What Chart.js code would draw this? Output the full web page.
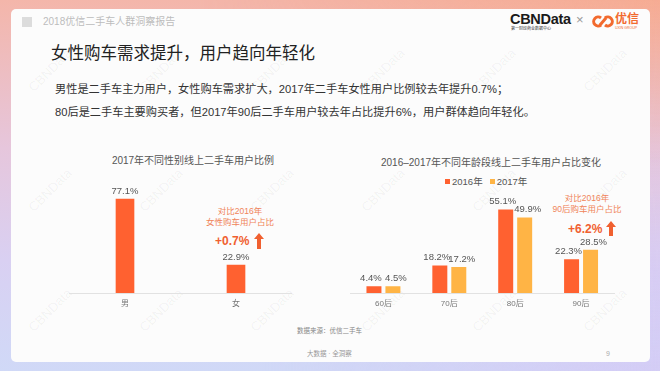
<!DOCTYPE html>
<html>
<head>
<meta charset="utf-8">
<script src="https://cdn.jsdelivr.net/npm/chart.js@4.4.0/dist/chart.umd.min.js"></script>
<style>
  html, body { margin: 0; padding: 0; }
  body {
    width: 660px; height: 371px; position: relative; overflow: hidden;
    font-family: "Liberation Sans", "Noto Sans CJK SC", sans-serif;
    background: linear-gradient(to bottom, #f4b6aa 0%, #e6c6dc 40%, #d9d0f2 70%, #d0d9f7 100%);
  }
  .tint { position: absolute; inset: 0; background: linear-gradient(to bottom, rgba(249,160,120,0.45) 0%, rgba(255,255,255,0) 45%); -webkit-mask-image: linear-gradient(to right, transparent 30%, black 100%); mask-image: linear-gradient(to right, transparent 30%, black 100%); }
  .tint2 { position: absolute; inset: 0; background: linear-gradient(to top, rgba(215,195,245,0.55) 0%, rgba(255,255,255,0) 60%); -webkit-mask-image: linear-gradient(to right, transparent 40%, black 100%); mask-image: linear-gradient(to right, transparent 40%, black 100%); }
  .card { position: absolute; left: 11px; top: 9px; width: 639px; height: 353px; background: #fcfcfc; border-radius: 5px; }
  .abs { position: absolute; white-space: nowrap; }
  .wm { position: absolute; font-size: 13px; color: rgba(0,0,0,0.05); transform: translate(-50%,-50%) rotate(-45deg); white-space: nowrap; }
  canvas { position: absolute; }
</style>
</head>
<body>
<div class="tint"></div>
<div class="tint2"></div>
<div class="card"></div>
<div id="wms"></div>

<div class="abs" style="left:22px;top:17px;width:10px;height:10px;background:#dcdcdc;"></div>
<div class="abs" style="left:43px;top:15px;font-size:10px;line-height:14px;color:#bcbcbc;">2018优信二手车人群洞察报告</div>

<div class="abs" style="left:510px;top:10px;font-size:14.5px;font-weight:bold;color:#1a1a1a;letter-spacing:-0.3px;line-height:18px;">CBNData</div>
<div class="abs" style="left:511px;top:26px;font-size:4px;color:#333;line-height:5px;">第一财经商业数据中心</div>
<div class="abs" style="left:576px;top:12px;font-size:13px;color:#999;line-height:16px;">×</div>
<svg class="abs" style="left:592px;top:15px;" width="22" height="13" viewBox="0 0 22 13">
  <path d="M9 3 A4.5 4.5 0 1 0 9 10" fill="none" stroke="#f26a2e" stroke-width="3"/>
  <path d="M13 3 A4.5 4.5 0 1 1 13 10" fill="none" stroke="#f26a2e" stroke-width="3"/>
  <path d="M8 10 L14 3" stroke="#f26a2e" stroke-width="3"/>
</svg>
<div class="abs" style="left:615px;top:12px;font-size:12px;font-weight:bold;color:#f26a2e;line-height:14px;">优信</div>
<div class="abs" style="left:615px;top:26px;font-size:3.5px;color:#f26a2e;line-height:4px;">UXIN GROUP</div>

<div class="abs" style="left:51px;top:43px;font-size:16.5px;line-height:20px;color:#222;">女性购车需求提升，用户趋向年轻化</div>
<div class="abs" style="left:55px;top:82px;font-size:11.2px;line-height:14px;color:#333;">男性是二手车主力用户，女性购车需求扩大，2017年二手车女性用户比例较去年提升0.7%；</div>
<div class="abs" style="left:55px;top:105px;font-size:11.2px;line-height:14px;color:#333;">80后是二手车主要购买者，但2017年90后二手车用户较去年占比提升6%，用户群体趋向年轻化。</div>

<div class="abs" style="left:193px;top:155px;transform:translateX(-50%);font-size:10px;line-height:12px;color:#555;">2017年不同性别线上二手车用户比例</div>
<div class="abs" style="left:491px;top:157px;transform:translateX(-50%);font-size:10px;line-height:12px;color:#555;">2016–2017年不同年龄段线上二手车用户占比变化</div>
<div id="legend" class="abs" style="left:445px;top:176px;font-size:9.5px;line-height:12px;color:#555;"></div>

<div class="abs" style="left:240px;top:206px;transform:translateX(-50%);font-size:8.5px;line-height:11px;color:#f0845a;text-align:center;">对比2016年<br>女性购车用户占比</div>
<div class="abs" style="left:215px;top:234px;font-size:12px;font-weight:bold;line-height:15px;color:#f06030;">+0.7%</div>
<svg class="abs" style="left:254px;top:233px;" width="10" height="16" viewBox="0 0 10 16"><polygon points="5,0 10,6 7,6 7,16 3,16 3,6 0,6" fill="#f06030"/></svg>

<div class="abs" style="left:587px;top:193px;transform:translateX(-50%);font-size:8.5px;line-height:11px;color:#f0845a;text-align:center;">对比2016年<br>90后购车用户占比</div>
<div class="abs" style="left:568px;top:222px;font-size:12px;font-weight:bold;line-height:15px;color:#f06030;">+6.2%</div>
<svg class="abs" style="left:606px;top:221px;" width="10" height="15" viewBox="0 0 10 15"><polygon points="5,0 10,6 7,6 7,15 3,15 3,6 0,6" fill="#f06030"/></svg>

<canvas id="genderChart" width="240" height="140" style="left:60px;top:180px;width:240px;height:140px;"></canvas>
<canvas id="ageChart" width="290" height="140" style="left:340px;top:180px;width:290px;height:140px;"></canvas>

<div class="abs" style="left:297px;top:327px;font-size:6.5px;line-height:8px;color:#888;">数据来源：优信二手车</div>
<div class="abs" style="left:307px;top:350px;font-size:6.5px;line-height:8px;color:#999;">大数据 · 全洞察</div>
<div class="abs" style="left:606px;top:349px;font-size:7px;line-height:9px;color:#aaa;">9</div>

<script>
// chart data
const genderLabels = ['男', '女'];
const genderValues = [77.1, 22.9];

const ageLabels = ['60后', '70后', '80后', '90后'];
const seriesNames = ['2016年', '2017年'];
const values2016 = [4.4, 18.2, 55.1, 22.3];
const values2017 = [4.5, 17.2, 49.9, 28.5];

const orangeRed = '#ff6130';
const yellowOrange = '#ffb445';

Chart.defaults.font.family = '"Liberation Sans", "Noto Sans CJK SC", sans-serif';
Chart.defaults.animation = false;

// watermarks
(function() {
    const box = document.getElementById('wms');
    [70, 190, 310].forEach(y => {
        for (let i = 0; i < 6; i++) {
            const d = document.createElement('div');
            d.className = 'wm';
            d.textContent = 'CBNData';
            d.style.left = (50 + 111 * i) + 'px';
            d.style.top = y + 'px';
            box.appendChild(d);
        }
    });
})();

// html legend
(function() {
    const colors = [orangeRed, yellowOrange];
    document.getElementById('legend').innerHTML = seriesNames.map((n, i) =>
        '<span style="display:inline-block;width:5px;height:5px;background:' + colors[i] +
        ';margin-right:2px;vertical-align:1px;"></span><span style="margin-right:7px;">' + n + '</span>'
    ).join('');
})();

/**
 * Value labels above bars (pushed a bit outward when bars are grouped)
 */
const valueLabels = {
    id: 'valueLabels',
    afterDatasetsDraw(chart) {
        const ctx = chart.ctx;
        const n = chart.data.datasets.length;
        ctx.save();
        ctx.font = '9.5px "Liberation Sans", sans-serif';
        ctx.fillStyle = '#555';
        ctx.textAlign = 'center';
        ctx.textBaseline = 'bottom';
        chart.data.datasets.forEach((ds, i) => {
            const shift = n > 1 ? (i === 0 ? -3 : 3) : 0;
            chart.getDatasetMeta(i).data.forEach((bar, j) => {
                ctx.fillText(ds.data[j].toFixed(1) + '%', bar.x + shift, bar.y - 3);
            });
        });
        ctx.restore();
    }
};

function xAxis() {
    return {
        grid: { display: false, drawTicks: false },
        border: { display: true, color: '#e2e2e2' },
        ticks: { color: '#777', font: { size: 8 }, padding: 6 }
    };
}

new Chart(document.getElementById('genderChart').getContext('2d'), {
    type: 'bar',
    data: {
        labels: genderLabels,
        datasets: [{
            data: genderValues,
            backgroundColor: orangeRed,
            barThickness: 18
        }]
    },
    options: {
        responsive: false,
        layout: { padding: { left: 9.5, right: 8.5, top: 3.4, bottom: 5.4 } },
        plugins: { legend: { display: false }, tooltip: { enabled: false } },
        scales: {
            x: xAxis(),
            y: { display: false, min: 0, max: 90 }
        }
    },
    plugins: [valueLabels]
});

new Chart(document.getElementById('ageChart').getContext('2d'), {
    type: 'bar',
    data: {
        labels: ageLabels,
        datasets: [{
            label: seriesNames[0],
            data: values2016,
            backgroundColor: orangeRed,
            categoryPercentage: 0.576,
            barPercentage: 0.79
        }, {
            label: seriesNames[1],
            data: values2017,
            backgroundColor: yellowOrange,
            categoryPercentage: 0.576,
            barPercentage: 0.79
        }]
    },
    options: {
        responsive: false,
        layout: { padding: { left: 10.5, right: 16, top: 7, bottom: 5.4 } },
        plugins: { legend: { display: false }, tooltip: { enabled: false } },
        scales: {
            x: xAxis(),
            y: { display: false, min: 0, max: 70 }
        }
    },
    plugins: [valueLabels]
});
</script>
</body>
</html>
